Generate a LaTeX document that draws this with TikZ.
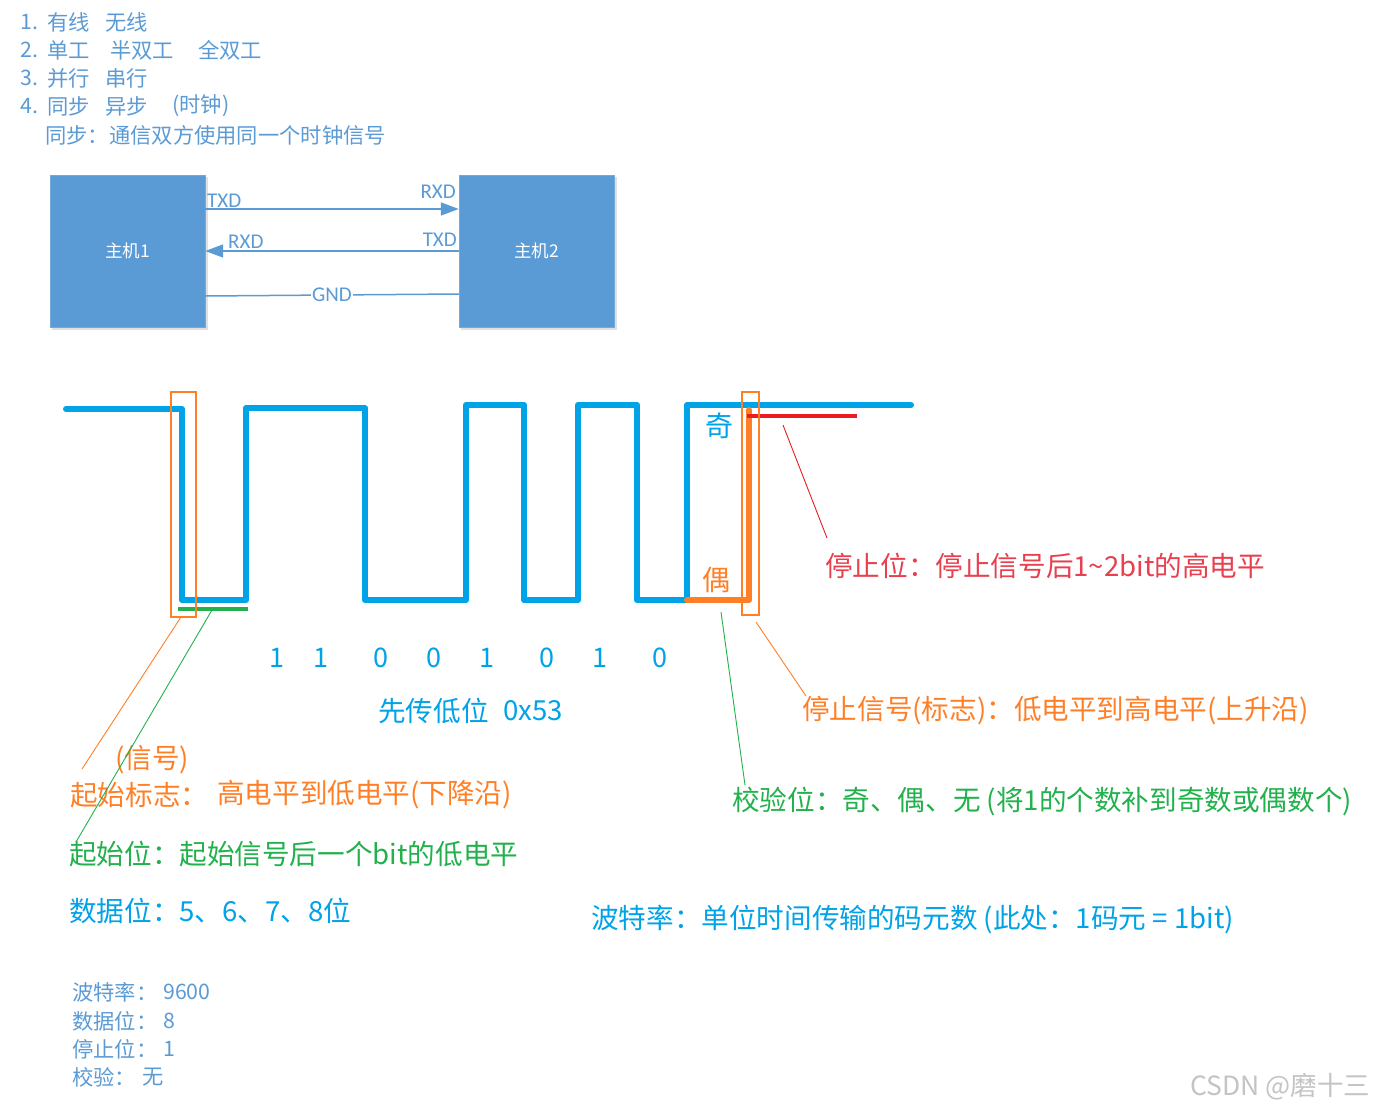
\documentclass[tikz,border=0pt]{standalone}
\usepackage{fontspec}
\setmainfont{Carlito}
\newfontfamily\cjk{Noto Sans CJK SC}
\usetikzlibrary{arrows.meta}
\definecolor{wblue}{HTML}{00A2E8}
\definecolor{tblue}{HTML}{5B9BD5}
\definecolor{ora}{HTML}{FF7F27}
\definecolor{grn}{HTML}{22B14C}
\definecolor{redl}{HTML}{ED1C24}
\definecolor{redt}{HTML}{E8404E}
\definecolor{wm}{HTML}{C4C4C4}
\begin{document}
\begin{tikzpicture}[x=1pt,y=-1pt,
  lst/.style={anchor=west,inner sep=0,text=tblue,font=\cjk\fontsize{21.3}{24}\selectfont},
  big/.style={anchor=west,inner sep=0,font=\cjk\fontsize{27.6}{32}\selectfont},
  bit/.style={inner sep=0,text=wblue,font=\cjk\fontsize{27}{32}\selectfont},
  host/.style={draw=tblue!85!white,fill=tblue,minimum width=155pt,minimum height=152pt,inner sep=0,text=white,font=\cjk\fontsize{17.5}{20}\selectfont},
  sig/.style={inner sep=0,text=tblue,font=\fontsize{21}{24}\selectfont},
  wire/.style={draw=tblue,line width=1.5pt},
  arr/.style={wire,-{Triangle[length=18pt,width=13pt]}},
  wave/.style={draw=wblue,line width=6pt,line join=round,line cap=round},
  markbox/.style={draw=ora,line width=1.5pt},
  thinline/.style={line width=0.9pt}
]
\useasboundingbox[fill=white] (0,0) rectangle (1374,1111);

% ---- top list
\node[lst] (l1n) at (20,22) {1.};
\node[lst] (l1a) at (47,22) {有线};
\node[lst] (l1b) at (105,22) {无线};
\node[lst] (l2n) at (20,50) {2.};
\node[lst] (l2a) at (47,50) {单工};
\node[lst] (l2b) at (110,50) {半双工};
\node[lst] (l2c) at (198,50) {全双工};
\node[lst] (l3n) at (20,78) {3.};
\node[lst] (l3a) at (47,78) {并行};
\node[lst] (l3b) at (105,78) {串行};
\node[lst] (l4n) at (20,106) {4.};
\node[lst] (l4a) at (47,106) {同步};
\node[lst] (l4b) at (105,106) {异步};
\node[lst] (l4c) at (172,106) {(时钟)};
\node[lst] (l5) at (45,135) {同步：通信双方使用同一个时钟信号};

% ---- hosts
\fill[black!12] (52,177) rectangle (208,330);
\fill[black!12] (461,177) rectangle (617,330);
\node[host] (h1) at (127.5,251) {主机1};
\node[host] (h2) at (536.5,251) {主机2};
\draw[arr] ([yshift=42pt]h1.east) -- ([yshift=42pt]h2.west);
\draw[arr] (h2.west) -- (h1.east);
\draw[wire] ([yshift=-45pt]h1.east) -- node[fill=white,inner sep=1pt,text=tblue,font=\fontsize{21}{24}\selectfont] (gnd) {GND} ([yshift=-43pt]h2.west);
\node[sig,anchor=west] (txd1) at (207,201) {TXD};
\node[sig,anchor=east] (rxd2) at (456,192) {RXD};
\node[sig,anchor=west] (rxd1) at (228,242) {RXD};
\node[sig,anchor=east] (txd2) at (457,240) {TXD};

% ---- waveform
\draw[wave] (66,409) -- (182,409) -- (182,600) -- (246,600) -- (246,408) -- (365,408) -- (365,600)
  -- (466,600) -- (466,405) -- (524,405) -- (524,600) -- (578,600) -- (578,405) -- (637,405)
  -- (637,600) -- (687,600) -- (687,405) -- (911,405);
\draw[draw=ora,line width=6pt,line join=round,line cap=round] (687,600) -- (749,600) -- (749,410);
\draw[draw=redl,line width=4pt] (747,416) -- (857,416);
\draw[draw=grn,line width=4pt] (178,609) -- (248,609);
\draw[markbox] (171,392) rectangle (196,617);
\draw[markbox] (742,392) rectangle (759,615);
\node[inner sep=0,text=wblue,font=\cjk\fontsize{28}{32}\selectfont] (odd) at (719,426) {奇};
\node[inner sep=0,text=ora,font=\cjk\fontsize{28}{32}\selectfont] (even) at (716,580) {偶};

% ---- bits
\node[bit] (b1) at (277,658) {1};
\node[bit] (b2) at (321,658) {1};
\node[bit] (b3) at (381,658) {0};
\node[bit] (b4) at (434,658) {0};
\node[bit] (b5) at (487,658) {1};
\node[bit] (b6) at (547,658) {0};
\node[bit] (b7) at (600,658) {1};
\node[bit] (b8) at (660,658) {0};
\node[big,text=wblue] (low) at (378,711) {先传低位};
\node[big,text=wblue] (hex) at (503,711) {0x53};

% ---- annotations
\node[big,text=redt] (stopbit) at (825,566) {停止位：停止信号后1\textasciitilde 2bit的高电平};
\node[big,text=ora] (stopsig) at (802,711) {停止信号(标志)：低电平到高电平(上升沿)};
\node[big,text=ora] (sig) at (115,760) {(信号)};
\node[big,text=ora] (startflag) at (70,795) {起始标志：};
\node[big,text=ora] (startflag2) at (217,795) {高电平到低电平(下降沿)};
\node[big,text=grn] (startbit) at (69,854) {起始位：起始信号后一个bit的低电平};
\node[big,text=wblue] (databit) at (69,911) {数据位：5、6、7、8位};
\node[big,text=grn] (parity) at (732,802) {校验位：奇、偶、无 (将1的个数补到奇数或偶数个)};
\node[big,text=wblue] (baud) at (591,920) {波特率：单位时间传输的码元数 (此处：1码元 = 1bit)};

\coordinate (rA) at (783,425); \coordinate (rB) at (827,538);
\coordinate (oA) at (756,622); \coordinate (oB) at (806,696);
\coordinate (gA) at (721,612); \coordinate (gB) at (745,785);
\coordinate (o2A) at (181,617); \coordinate (o2B) at (82,769);
\coordinate (g2A) at (212,610); \coordinate (g2B) at (76,842);
\draw[thinline,redl] (rA) -- (rB);
\draw[thinline,ora] (oA) -- (oB);
\draw[thinline,grn] (gA) -- (gB);
\draw[thinline,ora] (o2A) -- (o2B);
\draw[thinline,grn] (g2A) -- (g2B);

% ---- settings
\node[lst] (s1) at (72,992) {波特率：};
\node[lst] (s1v) at (163,992) {9600};
\node[lst] (s2) at (72,1021) {数据位：};
\node[lst] (s2v) at (163,1021) {8};
\node[lst] (s3) at (72,1049) {停止位：};
\node[lst] (s3v) at (163,1049) {1};
\node[lst] (s4) at (72,1077) {校验：};
\node[lst] (s4v) at (142,1077) {无};

\node[anchor=west,inner sep=0,text=wm,font=\cjk\fontsize{26.5}{30}\selectfont] (wmk) at (1190,1087) {CSDN @磨十三};
\end{tikzpicture}
\end{document}
